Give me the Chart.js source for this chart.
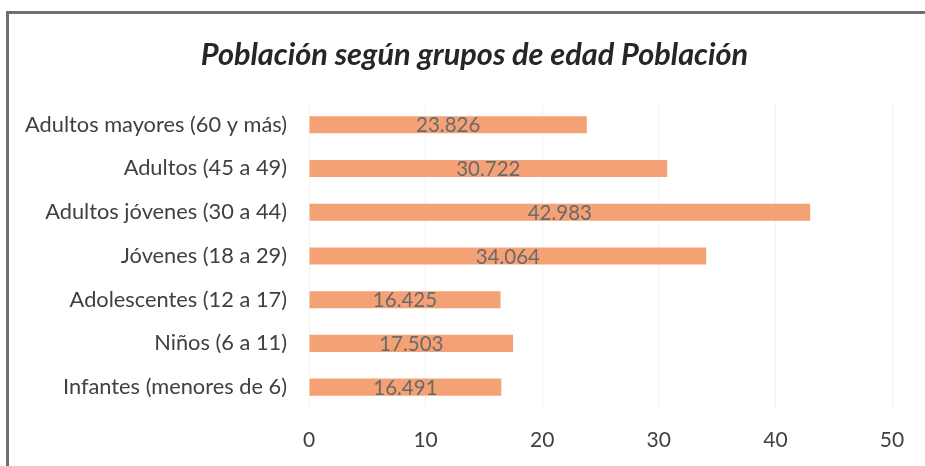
<!DOCTYPE html>
<html>
<head>
<meta charset="utf-8">
<script src="https://cdn.jsdelivr.net/npm/chart.js@4.4.1/dist/chart.umd.min.js"></script>
<style>
  body { margin: 0; background: #fff; overflow: hidden; }
  canvas { display: block; }
</style>
</head>
<body>
<canvas id="barChart" width="925" height="466"></canvas>
<script>
// grupos de edad, de arriba hacia abajo
var categorias = ["Adultos mayores (60 y más)", "Adultos (45 a 49)", "Adultos jóvenes (30 a 44)",
    "Jóvenes (18 a 29)", "Adolescentes (12 a 17)", "Niños (6 a 11)", "Infantes (menores de 6)"];
var poblacion = [23.826, 30.722, 42.983, 34.064, 16.425, 17.503, 16.491];
var ticksX = [0, 10, 20, 30, 40, 50];

// marco gris arriba y a la izquierda
var marco = {
    id: 'marco',
    afterLayout: function (chart) {
        // el titulo del original esta algo corrido a la derecha
        if (chart.titleBlock) {
            chart.titleBlock.left += 24;
            chart.titleBlock.right += 24;
        }
    },
    afterDraw: function (chart) {
        var ctx = chart.ctx;
        ctx.save();
        ctx.strokeStyle = '#707070';
        ctx.lineWidth = 3;
        ctx.beginPath();
        ctx.moveTo(7.5, chart.height);
        ctx.lineTo(7.5, 12.5);
        ctx.lineTo(chart.width, 12.5);
        ctx.stroke();
        ctx.restore();
    }
};

// etiquetas de valor dentro de cada barra
var etiquetasValor = {
    id: 'etiquetasValor',
    afterDatasetsDraw: function (chart) {
        var ctx = chart.ctx;
        var meta = chart.getDatasetMeta(0);
        ctx.save();
        ctx.font = '20.5px Lato';
        ctx.fillStyle = '#6a6a6a';
        ctx.textAlign = 'center';
        ctx.textBaseline = 'middle';
        meta.data.forEach(function (bar, i) {
            var xMid = (bar.x + bar.base) / 2;
            ctx.fillText(poblacion[i].toFixed(3), xMid, bar.y + 1);
        });
        ctx.restore();
    }
};

var ctx = document.getElementById("barChart").getContext('2d');
var myBarChart = new Chart(ctx, {
    type: 'bar',
    data: {
        labels: categorias,
        datasets: [{
            label: "Población",
            data: poblacion,
            backgroundColor: '#F3A175',
            borderWidth: 0,
            barPercentage: 0.39,
            categoryPercentage: 1
        }]
    },
    options: {
        indexAxis: 'y',
        responsive: false,
        animation: false,
        layout: { padding: { left: 9, right: 33, top: 28, bottom: 14 } },
        plugins: {
            legend: { display: false },
            tooltip: { enabled: false },
            title: {
                display: true,
                text: 'Población según grupos de edad Población',
                color: '#262626',
                font: { family: 'Lato', size: 30.7, weight: 'bold', style: 'italic' },
                padding: { top: 9, bottom: 29 }
            }
        },
        scales: {
            x: {
                min: 0,
                max: 50,
                afterBuildTicks: function (scale) {
                    scale.ticks = ticksX.map(function (v) { return { value: v }; });
                },
                afterFit: function (scale) { scale.height = 43; },
                grid: { color: '#f3f3f3', drawTicks: false },
                border: { display: false },
                ticks: { color: '#404040', font: { family: 'Lato', size: 21 }, padding: 19 }
            },
            y: {
                grid: { display: false },
                border: { display: false },
                afterFit: function (scale) { scale.width = 300; },
                ticks: { color: '#404040', font: { family: 'Lato', size: 21.8 }, padding: 14 }
            }
        }
    },
    plugins: [etiquetasValor, marco]
});
</script>
</body>
</html>
